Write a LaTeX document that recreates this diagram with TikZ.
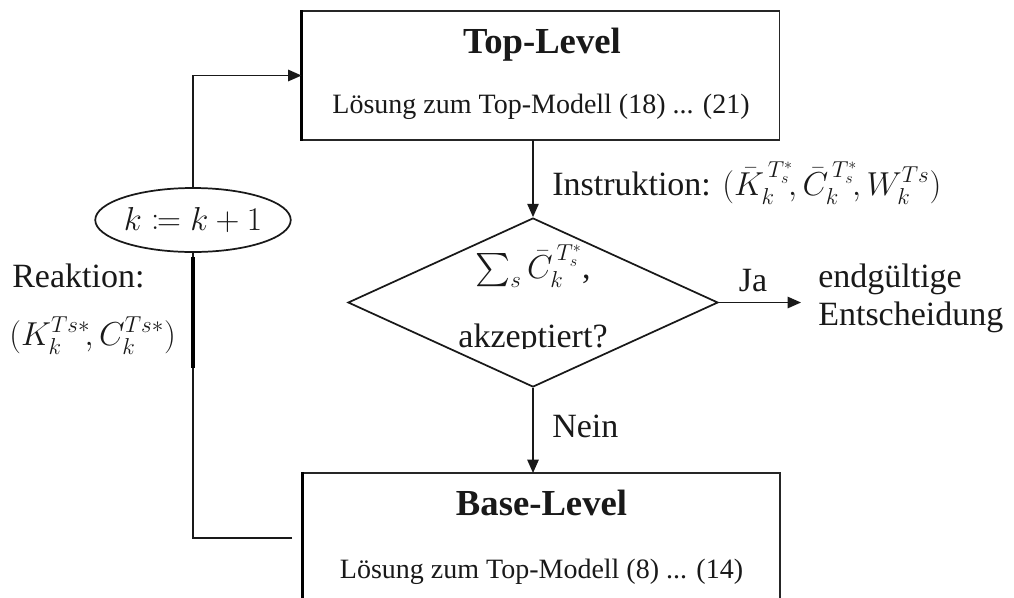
\documentclass[tikz,border=0pt]{standalone}
\usepackage{fontspec}
\usepackage{mathtools}
\setmainfont{Liberation Serif}
\usetikzlibrary{arrows.meta,shapes.geometric}
\tikzset{
  conn/.style={line width=1.2pt, draw=black!90},
  arr/.style={conn, -{Triangle[length=10pt,width=8.5pt]}},
  boxnode/.style={draw=black!85, line width=1.4pt, rectangle, inner sep=0pt},
  edge/.style={line width=2.2pt, draw=black},
  big/.style={font=\fontsize{25.5}{30}\selectfont, text=black!90, inner sep=0pt},
  small/.style={font=\fontsize{21}{25}\selectfont, text=black!90, inner sep=0pt},
  title/.style={font=\fontsize{27.5}{32}\selectfont\bfseries, text=black!90, inner sep=0pt},
}
\begin{document}
\begin{tikzpicture}[x=0.75pt,y=-0.75pt]
\useasboundingbox (0,0) rectangle (1014,597);
\clip (0,0) rectangle (1014,597);
% boxes
\node[boxnode, minimum width=357.75pt, minimum height=96.75pt] (top) at (541,75.5) {};
\draw[edge] (top.north west) -- (top.south west);
\node[title, anchor=base] (toptitle) at (542,53) {Top-Level};
\node[small, anchor=base] (toptext) at (541,113) {Lösung zum Top-Modell (18) ... (21)};
\node[boxnode, minimum width=357.75pt, minimum height=99pt] (base) at (541.5,539) {};
\draw[edge] (base.north west) -- (base.south west);
\node[title, anchor=base] (basetitle) at (541.5,515) {Base-Level};
\node[small, anchor=base] (basetext) at (541.5,578) {Lösung zum Top-Modell (8) ... (14)};
% diamond
\node[draw=black!90, line width=1.3pt, diamond, inner sep=0pt, minimum width=277.5pt, minimum height=126.75pt] (dec) at (533,302.5) {};
\node[big, anchor=base] (sumtext) at (533,278) {$\sum_s \bar{C}_k^{\,T_s^*}$,};
\begin{scope}
\clip (348,300) rectangle (718,348.5);
\node[big, anchor=base] (akz) at (533,347) {akzeptiert?};
\end{scope}
% ellipse
\node[draw=black!90, line width=1.3pt, ellipse, inner sep=0pt, minimum width=123.75pt, minimum height=48pt, big] (ell) at (193,220) {$k \coloneqq k+1$};
% labels
\node[big, anchor=base west] (instr) at (552,195) {Instruktion: $(\bar{K}_k^{\,T_s^*}\!, \bar{C}_k^{\,T_s^*}\!, W_k^{Ts})$};
\node[big, anchor=base] (ja) at (753,291) {Ja};
\node[big, anchor=base west] (endg) at (818,287) {endgültige};
\node[big, anchor=base west] (ents) at (818,325) {Entscheidung};
\node[big, anchor=base west] (nein) at (552,437) {Nein};
\node[big, anchor=base west] (reak) at (12,287) {Reaktion:};
\node[big, anchor=base west] (reakm) at (9,345) {$(K_k^{Ts*}\!, C_k^{Ts*})$};
% connectors
\coordinate (topout) at (533,140);
\draw[arr] (topout) -- (dec.north);
\coordinate (baseinx) at (533,473);
\draw[arr] (dec.south) -- (baseinx);
\coordinate (jaend) at (801,302.5);
\draw[arr] (dec.east) -- (jaend);
\coordinate (fb) at (292,538);
\draw[conn] (fb) -| (ell.south);
\coordinate (thickA) at (193,257);
\coordinate (thickB) at (193,368);
\draw[line width=2.6pt] (thickA) -- (thickB);
\draw[arr] (ell.north) |- (top.west);
\end{tikzpicture}
\end{document}
